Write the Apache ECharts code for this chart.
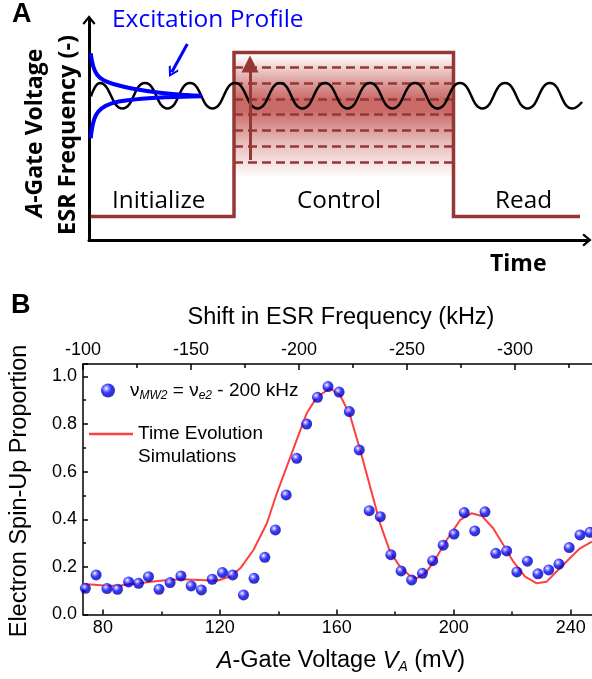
<!DOCTYPE html>
<html><head><meta charset="utf-8">
<script src="https://cdn.jsdelivr.net/npm/echarts@6/dist/echarts.min.js"></script>
<style>html,body{margin:0;padding:0;background:#fff}#c{width:592px;height:679px}</style>
</head><body><div id="c"></div>
<script>
// ---------- Panel B data ----------
const voltage = [74.0,77.7,81.4,85.0,88.8,92.2,95.6,99.2,103.0,106.7,110.2,113.7,117.4,120.9,124.4,128.1,131.7,135.4,139.0,142.7,146.3,149.7,153.4,157.0,160.8,164.3,167.7,171.1,174.9,178.5,182.0,185.6,189.3,192.8,196.4,200.1,203.6,207.2,210.7,214.4,218.1,221.6,225.2,228.8,232.5,236.0,239.5,243.2,246.6];
const spinUp = [0.110,0.166,0.109,0.106,0.137,0.131,0.159,0.106,0.134,0.162,0.120,0.103,0.148,0.176,0.166,0.082,0.152,0.240,0.355,0.502,0.656,0.800,0.912,0.957,0.934,0.852,0.691,0.436,0.411,0.251,0.183,0.145,0.173,0.226,0.291,0.338,0.428,0.351,0.431,0.257,0.267,0.179,0.224,0.171,0.187,0.212,0.281,0.334,0.345];
const simVoltage = [73.2,77,81.4,86,90,95,99.6,106.4,113.3,119,123.5,127,131.5,136.1,139.5,142.9,146.3,149.7,153.2,157.7,161.1,164.5,168,171.4,174.8,178.2,181.6,185.1,187.3,190.8,194.2,197.6,202.2,206.1,209.6,213.5,217.0,220.4,224.4,228.4,231.8,236.3,239.7,243.2,247.3];
const simSpinUp = [0.128,0.125,0.121,0.122,0.128,0.135,0.142,0.148,0.145,0.142,0.159,0.194,0.271,0.383,0.509,0.621,0.733,0.845,0.913,0.950,0.922,0.838,0.691,0.537,0.383,0.264,0.201,0.162,0.152,0.180,0.243,0.313,0.397,0.425,0.414,0.362,0.292,0.222,0.159,0.131,0.138,0.194,0.236,0.278,0.306];
const bottomTicksMajor = [80,120,160,200,240];
const bottomTicksMinor = [100,140,180,220];
const topTicksMajor = [-100,-150,-200,-250,-300];
const topTicksMinor = [-125,-175,-225,-275,-325];

// ---------- Panel A schematic (time units, level units) ----------
const pulseT = [1.7,145,145,364.5,364.5,491];
const pulseLevel = [23.5,23.5,187.5,187.5,23.5,23.5];
const dashLevels = [172.3,156.7,141,125.5,110,94,77.7];
const dashSpan = [145,364.5];
const bandSpan = [185,62];
const waveT = [2,11,33.5,56,78.5,101,123.5,146,168.5,191,213.5,236,258.5,281,303.5,326,348.5,371,393.5,416,438.5,461,483.5,493];
const waveLevel = [143.5,157,131.5,157,131.5,157,131.5,157,131.5,157,131.5,157,131.5,157,131.5,157,131.5,157,131.5,157,131.5,157,131.5,138];
const profUpperT = [1.7,4.3,8.3,14.3,24.3,44.3,71,97.7,112.7];
const profUpperLevel = [186.7,173.3,165,160,156,151.3,147.3,145,144.3];
const profLowerT = [1.7,3.7,7,12.7,22.7,41,67.7,94.3,112.7];
const profLowerLevel = [101.7,115,125,131.7,136.7,140,142.3,143.3,143.7];
const redArrow = [[161,80],[161,176]];
const blueArrow = [[98.3,196],[82.7,167.7]];

const FB = '"Liberation Sans", Arial, sans-serif';
const FA = '"Open Sans", Lato, sans-serif';
const DARKRED = '#953735';
const chevron = 'path://M0,8.5 L7,0 L14,8.5 L12.2,10 L7,3.6 L1.8,10 Z';
const dotColor = {type:'radial',x:0.38,y:0.35,r:0.7,colorStops:[
  {offset:0,color:'#ffffff'},{offset:0.22,color:'#7a7aff'},{offset:0.5,color:'#0000ff'},{offset:1,color:'#00008a'}]};
const bandColor = {type:'linear',x:0,y:0,x2:0,y2:1,colorStops:[
  {offset:0,color:'rgba(192,80,77,0)'},{offset:0.2,color:'rgba(192,80,77,0.5)'},
  {offset:0.36,color:'rgba(192,80,77,0.85)'},{offset:0.45,color:'rgba(192,80,77,0.85)'},
  {offset:0.7,color:'rgba(192,80,77,0.4)'},{offset:1,color:'rgba(192,80,77,0)'}]};

const blk = '#000';
const tickStyle = {color:blk,width:1.5};
function zip(a,b){return a.map((v,i)=>[v,b[i]]);}

const chart = echarts.init(document.getElementById('c'));
const option = {
  animation:false,
  grid:[
    {left:83,right:0,top:364,bottom:64.5},
    {left:89,right:5,top:20,height:220}
  ],
  legend:[
    {data:['nu'],left:101,top:381,padding:0,itemWidth:14,itemHeight:14,
     formatter:()=> '{n|ν}{s|MW2}{n| = ν}{s|e2}{n| - 200 kHz}',
     textStyle:{padding:[0,0,0,10],rich:{
       n:{fontFamily:FB,fontSize:19,color:blk,lineHeight:22},
       s:{fontFamily:FB,fontSize:12,fontStyle:'italic',color:blk,lineHeight:22,verticalAlign:'bottom'}}}},
    {data:[{name:'sim',icon:'rect'}],left:89,top:423,padding:0,itemWidth:44,itemHeight:2.5,
     formatter:()=> 'Time Evolution',
     textStyle:{fontFamily:FB,fontSize:19,color:blk,lineHeight:22}}
  ],
  xAxis:[
    {gridIndex:0,type:'value',position:'bottom',min:73.2,max:247.3,
     axisLine:{onZero:false,lineStyle:{color:blk,width:1.5}},
     axisTick:{inside:true,length:5,customValues:bottomTicksMajor,lineStyle:tickStyle},
     axisLabel:{customValues:bottomTicksMajor,color:blk,fontFamily:FB,fontSize:18,margin:5},
     splitLine:{show:false}},
    {gridIndex:0,type:'value',position:'bottom',min:73.2,max:247.3,
     axisLine:{show:false,onZero:false},
     axisTick:{inside:true,length:3,customValues:bottomTicksMinor,lineStyle:tickStyle},
     axisLabel:{show:false},splitLine:{show:false}},
    {gridIndex:0,type:'value',position:'top',inverse:true,min:-335.6,max:-100,
     axisLine:{onZero:false,lineStyle:{color:blk,width:1.5}},
     axisTick:{inside:true,length:6,customValues:topTicksMajor,lineStyle:tickStyle},
     axisLabel:{customValues:topTicksMajor,color:blk,fontFamily:FB,fontSize:18,margin:5},
     splitLine:{show:false}},
    {gridIndex:0,type:'value',position:'top',inverse:true,min:-335.6,max:-100,
     axisLine:{show:false,onZero:false},
     axisTick:{inside:true,length:4,customValues:topTicksMinor,lineStyle:tickStyle},
     axisLabel:{show:false},splitLine:{show:false}},
    {gridIndex:1,type:'value',min:0,max:498,
     axisLine:{show:true,onZero:false,symbol:['none',chevron],symbolSize:[13,10],lineStyle:{color:blk,width:3}},
     axisTick:{show:false},axisLabel:{show:false},splitLine:{show:false}}
  ],
  yAxis:[
    {gridIndex:0,type:'value',min:0,max:1.052,interval:0.2,
     axisLine:{show:true,onZero:false,lineStyle:{color:blk,width:1.5}},
     axisTick:{show:true,inside:true,length:5,lineStyle:tickStyle},
     minorTick:{show:true,splitNumber:2,length:3,lineStyle:tickStyle},
     axisLabel:{color:blk,fontFamily:FB,fontSize:18,margin:6,showMaxLabel:false,formatter:v=>v.toFixed(1)},
     splitLine:{show:false}},
    {gridIndex:1,type:'value',min:0,max:220,
     axisLine:{show:true,onZero:false,symbol:['none',chevron],symbolSize:[13,10],lineStyle:{color:blk,width:3}},
     axisTick:{show:false},axisLabel:{show:false},splitLine:{show:false}}
  ],
  series:[
    {type:'line',name:'sim',xAxisIndex:0,yAxisIndex:0,data:zip(simVoltage,simSpinUp),
     symbol:'none',lineStyle:{color:'#ff4040',width:2},itemStyle:{color:'#ff4040'},z:2},
    {type:'scatter',name:'nu',xAxisIndex:0,yAxisIndex:0,data:zip(voltage,spinUp),
     symbolSize:11,itemStyle:{color:dotColor},z:3},
    // Panel A
    {type:'line',xAxisIndex:4,yAxisIndex:1,data:[],z:1,
     markArea:{silent:true,itemStyle:{color:bandColor},
       data:[[{coord:[dashSpan[0],bandSpan[0]]},{coord:[dashSpan[1],bandSpan[1]]}]]}},
    {type:'lines',coordinateSystem:'cartesian2d',xAxisIndex:4,yAxisIndex:1,z:2,
     data:dashLevels.map(l=>({coords:[[dashSpan[0],l],[dashSpan[1],l]]})),
     lineStyle:{color:DARKRED,width:2.5,type:[9,5],opacity:1}},
    {type:'line',xAxisIndex:4,yAxisIndex:1,z:3,data:zip(pulseT,pulseLevel),symbol:'none',
     lineStyle:{color:DARKRED,width:3.5,join:'miter'}},
    {type:'line',xAxisIndex:4,yAxisIndex:1,z:4,data:zip(waveT,waveLevel),symbol:'none',smooth:0.5,
     lineStyle:{color:blk,width:2.5}},
    {type:'lines',coordinateSystem:'cartesian2d',xAxisIndex:4,yAxisIndex:1,z:5,
     data:[{coords:redArrow}],symbol:['none','triangle'],symbolSize:[16,17],
     lineStyle:{color:DARKRED,width:3,opacity:1},itemStyle:{color:DARKRED}},
    {type:'line',xAxisIndex:4,yAxisIndex:1,z:6,data:zip(profUpperT,profUpperLevel),symbol:'none',smooth:0.4,
     lineStyle:{color:'#0000ff',width:4}},
    {type:'line',xAxisIndex:4,yAxisIndex:1,z:6,data:zip(profLowerT,profLowerLevel),symbol:'none',smooth:0.4,
     lineStyle:{color:'#0000ff',width:4}},
    {type:'lines',coordinateSystem:'cartesian2d',xAxisIndex:4,yAxisIndex:1,z:6,
     data:[{coords:blueArrow}],symbol:['none',chevron],symbolSize:[15,11],
     lineStyle:{color:'#0000ff',width:3,opacity:1},itemStyle:{color:'#0000ff'}}
  ],
  graphic:[
    {type:'text',x:12,y:15,style:{text:'A',font:'bold 27px '+FB,fill:blk,textVerticalAlign:'middle'}},
    {type:'text',x:11,y:306,style:{text:'B',font:'bold 27px '+FB,fill:blk,textVerticalAlign:'middle'}},
    {type:'text',x:112,y:20,style:{text:'Excitation Profile',font:'24.5px '+FA,fill:'#0000ff',textVerticalAlign:'middle'}},
    {type:'text',x:112,y:201,style:{text:'Initialize',font:'24.3px '+FA,fill:blk,textVerticalAlign:'middle'}},
    {type:'text',x:297,y:201,style:{text:'Control',font:'24.3px '+FA,fill:blk,textVerticalAlign:'middle'}},
    {type:'text',x:495,y:201,style:{text:'Read',font:'24.3px '+FA,fill:blk,textVerticalAlign:'middle'}},
    {type:'text',x:490,y:264,style:{text:'Time',font:'bold 23px '+FA,fill:blk,textVerticalAlign:'middle'}},
    {type:'text',x:35,y:133,rotation:Math.PI/2,style:{text:'{i|A}{b|-Gate Voltage}',textAlign:'center',textVerticalAlign:'middle',
      rich:{i:{fontFamily:FA,fontWeight:'bold',fontStyle:'italic',fontSize:23,fill:blk},b:{fontFamily:FA,fontWeight:'bold',fontSize:23,fill:blk}}}},
    {type:'text',x:68,y:135,rotation:Math.PI/2,style:{text:'ESR Frequency (-)',font:'bold 23.5px '+FA,fill:blk,textAlign:'center',textVerticalAlign:'middle'}},
    {type:'text',x:341,y:318,style:{text:'Shift in ESR Frequency (kHz)',font:'23.5px '+FB,fill:blk,textAlign:'center',textVerticalAlign:'middle'}},
    {type:'text',x:20,y:491,rotation:Math.PI/2,style:{text:'Electron Spin-Up Proportion',font:'23.5px '+FB,fill:blk,textAlign:'center',textVerticalAlign:'middle'}},
    {type:'text',x:341,y:661,style:{text:'{i|A}{n|-Gate Voltage }{i|V}{s|A}{n| (mV)}',textAlign:'center',textVerticalAlign:'middle',
      rich:{i:{fontFamily:FB,fontStyle:'italic',fontSize:23.5,fill:blk,lineHeight:26},n:{fontFamily:FB,fontSize:23.5,fill:blk,lineHeight:26},
            s:{fontFamily:FB,fontStyle:'italic',fontSize:14,fill:blk,lineHeight:26,verticalAlign:'bottom'}}}},
    {type:'text',x:138,y:457,style:{text:'Simulations',font:'19px '+FB,fill:blk,textVerticalAlign:'middle'}}
  ]
};
chart.setOption(option);
</script></body></html>
